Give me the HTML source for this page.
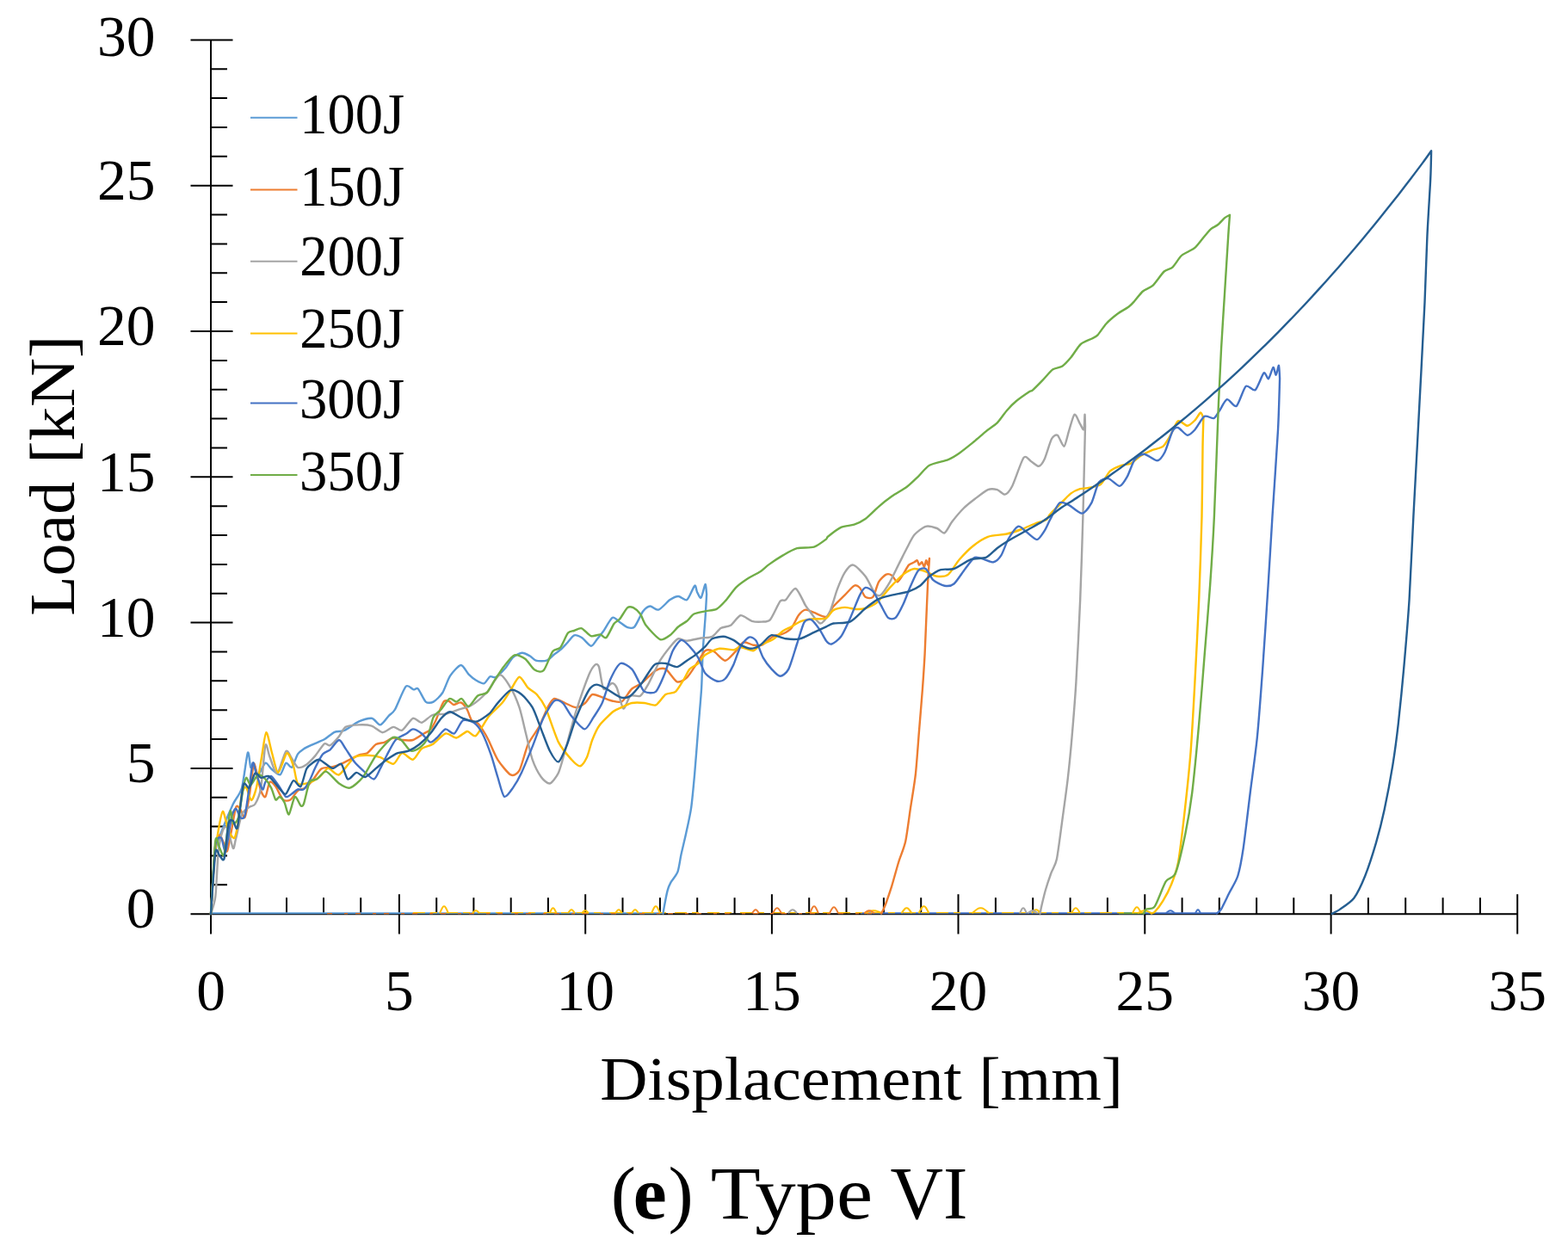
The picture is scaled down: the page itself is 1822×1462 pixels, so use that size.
<!DOCTYPE html>
<html><head><meta charset="utf-8"><title>Load vs Displacement - Type VI</title>
<style>html,body{margin:0;padding:0;background:#fff;}svg{display:block;}</style>
</head><body>
<svg width="1822" height="1462" viewBox="0 0 1822 1462">
<rect width="100%" height="100%" fill="#fff"/>
<path d="M245.0,46.4 L245.0,1085.5 M221.5,1062.2 L1763.2,1062.2 M245.0,1028.3 L264.0,1028.3 M245.0,994.5 L264.0,994.5 M245.0,960.6 L264.0,960.6 M245.0,926.8 L264.0,926.8 M221.5,892.9 L270.5,892.9 M245.0,859.0 L264.0,859.0 M245.0,825.2 L264.0,825.2 M245.0,791.3 L264.0,791.3 M245.0,757.5 L264.0,757.5 M221.5,723.6 L270.5,723.6 M245.0,689.7 L264.0,689.7 M245.0,655.9 L264.0,655.9 M245.0,622.0 L264.0,622.0 M245.0,588.2 L264.0,588.2 M221.5,554.3 L270.5,554.3 M245.0,520.4 L264.0,520.4 M245.0,486.6 L264.0,486.6 M245.0,452.7 L264.0,452.7 M245.0,418.9 L264.0,418.9 M221.5,385.0 L270.5,385.0 M245.0,351.1 L264.0,351.1 M245.0,317.3 L264.0,317.3 M245.0,283.4 L264.0,283.4 M245.0,249.6 L264.0,249.6 M221.5,215.7 L270.5,215.7 M245.0,181.8 L264.0,181.8 M245.0,148.0 L264.0,148.0 M245.0,114.1 L264.0,114.1 M245.0,80.3 L264.0,80.3 M221.5,46.4 L270.5,46.4 M290.1,1043.2 L290.1,1062.2 M333.0,1043.2 L333.0,1062.2 M376.0,1043.2 L376.0,1062.2 M419.2,1043.2 L419.2,1062.2 M463.9,1039.2 L463.9,1085.5 M507.2,1043.2 L507.2,1062.2 M550.4,1043.2 L550.4,1062.2 M593.7,1043.2 L593.7,1062.2 M636.9,1043.2 L636.9,1062.2 M680.2,1039.2 L680.2,1085.5 M723.5,1043.2 L723.5,1062.2 M766.9,1043.2 L766.9,1062.2 M810.2,1043.2 L810.2,1062.2 M853.6,1043.2 L853.6,1062.2 M896.9,1039.2 L896.9,1085.5 M940.2,1043.2 L940.2,1062.2 M983.5,1043.2 L983.5,1062.2 M1026.9,1043.2 L1026.9,1062.2 M1070.2,1043.2 L1070.2,1062.2 M1113.5,1039.2 L1113.5,1085.5 M1156.9,1043.2 L1156.9,1062.2 M1200.2,1043.2 L1200.2,1062.2 M1243.6,1043.2 L1243.6,1062.2 M1286.9,1043.2 L1286.9,1062.2 M1330.3,1039.2 L1330.3,1085.5 M1373.6,1043.2 L1373.6,1062.2 M1416.8,1043.2 L1416.8,1062.2 M1460.1,1043.2 L1460.1,1062.2 M1503.3,1043.2 L1503.3,1062.2 M1546.6,1039.2 L1546.6,1085.5 M1589.9,1043.2 L1589.9,1062.2 M1633.2,1043.2 L1633.2,1062.2 M1676.6,1043.2 L1676.6,1062.2 M1719.9,1043.2 L1719.9,1062.2 M1763.2,1039.2 L1763.2,1085.5" stroke="#000" stroke-width="2" fill="none"/>
<path d="M245,1061.3 L770.6,1061.3" stroke="#5B9BD5" stroke-width="2" fill="none"/>
<path d="M1000,1061.3 L1414.1,1061.3" stroke="#4472C4" stroke-width="2" fill="none"/>
<path d="M1300,1061.3 L1328.9,1061.3" stroke="#70AD47" stroke-width="2" fill="none"/>
<path d="M480,1060.6 L1338,1060.6" stroke="#FFC000" stroke-width="1.4" stroke-dasharray="14 6 8 10" fill="none"/>
<path d="M380,1061.6 L1024,1061.6" stroke="#ED7D31" stroke-width="1.2" stroke-dasharray="6 14 4 9" fill="none"/>
<path d="M1316.0,1061.3 C1316.2,1060.8 1318.6,1056.3 1319.0,1055.7 C1319.4,1055.1 1320.7,1054.3 1321.0,1054.3 C1321.3,1054.3 1322.6,1055.1 1323.0,1055.7 C1323.4,1056.3 1325.8,1060.8 1326.0,1061.3 M1245.0,1061.3 C1245.2,1060.9 1247.6,1057.0 1248.0,1056.5 C1248.4,1056.0 1249.7,1055.3 1250.0,1055.3 C1250.3,1055.3 1251.6,1056.0 1252.0,1056.5 C1252.4,1057.0 1254.8,1060.9 1255.0,1061.3 M1199.0,1061.3 C1199.2,1061.0 1201.6,1058.4 1202.0,1058.1 C1202.4,1057.8 1203.7,1057.3 1204.0,1057.3 C1204.3,1057.3 1205.6,1057.8 1206.0,1058.1 C1206.4,1058.4 1208.8,1061.0 1209.0,1061.3 M1129.5,1061.3 C1130.0,1060.9 1134.7,1057.0 1135.5,1056.5 C1136.3,1056.0 1138.8,1055.3 1139.5,1055.3 C1140.2,1055.3 1142.7,1056.0 1143.5,1056.5 C1144.3,1057.0 1149.0,1060.9 1149.5,1061.3 M1067.5,1061.3 C1067.8,1060.8 1070.6,1055.6 1071.1,1054.9 C1071.6,1054.2 1073.1,1053.3 1073.5,1053.3 C1073.9,1053.3 1075.4,1054.2 1075.9,1054.9 C1076.4,1055.6 1079.2,1060.8 1079.5,1061.3 M1047.5,1061.3 C1047.8,1060.9 1050.6,1057.0 1051.1,1056.5 C1051.6,1056.0 1053.1,1055.3 1053.5,1055.3 C1053.9,1055.3 1055.4,1056.0 1055.9,1056.5 C1056.4,1057.0 1059.2,1060.9 1059.5,1061.3 M1005.0,1061.3 C1005.5,1061.1 1010.2,1059.1 1011.0,1058.9 C1011.8,1058.6 1014.3,1058.3 1015.0,1058.3 C1015.7,1058.3 1018.2,1058.6 1019.0,1058.9 C1019.8,1059.1 1024.5,1061.1 1025.0,1061.3 M757.0,1061.3 C757.2,1060.8 759.6,1055.6 760.0,1054.9 C760.4,1054.2 761.7,1053.3 762.0,1053.3 C762.3,1053.3 763.6,1054.2 764.0,1054.9 C764.4,1055.6 766.8,1060.8 767.0,1061.3 M734.0,1061.3 C734.2,1061.0 736.1,1058.4 736.4,1058.1 C736.7,1057.8 737.7,1057.3 738.0,1057.3 C738.3,1057.3 739.3,1057.8 739.6,1058.1 C739.9,1058.4 741.8,1061.0 742.0,1061.3 M715.0,1061.3 C715.2,1061.0 717.1,1058.4 717.4,1058.1 C717.7,1057.8 718.7,1057.3 719.0,1057.3 C719.3,1057.3 720.3,1057.8 720.6,1058.1 C720.9,1058.4 722.8,1061.0 723.0,1061.3 M676.0,1061.3 C676.2,1061.1 678.1,1059.1 678.4,1058.9 C678.7,1058.6 679.7,1058.3 680.0,1058.3 C680.3,1058.3 681.3,1058.6 681.6,1058.9 C681.9,1059.1 683.8,1061.1 684.0,1061.3 M660.0,1061.3 C660.2,1061.0 662.1,1058.4 662.4,1058.1 C662.7,1057.8 663.7,1057.3 664.0,1057.3 C664.3,1057.3 665.3,1057.8 665.6,1058.1 C665.9,1058.4 667.8,1061.0 668.0,1061.3 M638.6,1061.3 C638.8,1060.9 640.7,1057.0 641.0,1056.5 C641.3,1056.0 642.3,1055.3 642.6,1055.3 C642.9,1055.3 643.9,1056.0 644.2,1056.5 C644.5,1057.0 646.4,1060.9 646.6,1061.3 M549.0,1061.3 C549.2,1061.1 551.1,1059.1 551.4,1058.9 C551.7,1058.6 552.7,1058.3 553.0,1058.3 C553.3,1058.3 554.3,1058.6 554.6,1058.9 C554.9,1059.1 556.8,1061.1 557.0,1061.3 M511.0,1061.3 C511.2,1060.8 513.6,1055.6 514.0,1054.9 C514.4,1054.2 515.7,1053.3 516.0,1053.3 C516.3,1053.3 517.6,1054.2 518.0,1054.9 C518.4,1055.6 520.8,1060.8 521.0,1061.3 M1322.0,1061.3 C1322.4,1061.1 1326.1,1059.1 1326.8,1058.9 C1327.5,1058.6 1329.5,1058.3 1330.0,1058.3 C1330.5,1058.3 1332.5,1058.6 1333.2,1058.9 C1333.9,1059.1 1337.6,1061.1 1338.0,1061.3" stroke="#FFC000" stroke-width="2" fill="none" stroke-linejoin="round"/>
<path d="M1185.0,1061.3 C1185.2,1060.9 1187.1,1057.0 1187.4,1056.5 C1187.7,1056.0 1188.7,1055.3 1189.0,1055.3 C1189.3,1055.3 1190.3,1056.0 1190.6,1056.5 C1190.9,1057.0 1192.8,1060.9 1193.0,1061.3 M916.0,1061.3 C916.2,1061.0 918.6,1058.4 919.0,1058.1 C919.4,1057.8 920.7,1057.3 921.0,1057.3 C921.3,1057.3 922.6,1057.8 923.0,1058.1 C923.4,1058.4 925.8,1061.0 926.0,1061.3 M1194.0,1061.3 C1194.3,1061.1 1197.1,1059.1 1197.6,1058.9 C1198.1,1058.6 1199.6,1058.3 1200.0,1058.3 C1200.4,1058.3 1201.9,1058.6 1202.4,1058.9 C1202.9,1059.1 1205.7,1061.1 1206.0,1061.3" stroke="#A5A5A5" stroke-width="2" fill="none" stroke-linejoin="round"/>
<path d="M964.0,1061.3 C964.2,1060.8 966.6,1056.3 967.0,1055.7 C967.4,1055.1 968.7,1054.3 969.0,1054.3 C969.3,1054.3 970.6,1055.1 971.0,1055.7 C971.4,1056.3 973.8,1060.8 974.0,1061.3 M941.0,1061.3 C941.2,1060.8 943.6,1055.6 944.0,1054.9 C944.4,1054.2 945.7,1053.3 946.0,1053.3 C946.3,1053.3 947.6,1054.2 948.0,1054.9 C948.4,1055.6 950.8,1060.8 951.0,1061.3 M898.0,1061.3 C898.2,1060.9 900.6,1057.0 901.0,1056.5 C901.4,1056.0 902.7,1055.3 903.0,1055.3 C903.3,1055.3 904.6,1056.0 905.0,1056.5 C905.4,1057.0 907.8,1060.9 908.0,1061.3 M874.0,1061.3 C874.2,1061.0 876.1,1058.4 876.4,1058.1 C876.7,1057.8 877.7,1057.3 878.0,1057.3 C878.3,1057.3 879.3,1057.8 879.6,1058.1 C879.9,1058.4 881.8,1061.0 882.0,1061.3 M1004.0,1061.3 C1004.3,1061.1 1007.1,1059.1 1007.6,1058.9 C1008.1,1058.6 1009.6,1058.3 1010.0,1058.3 C1010.4,1058.3 1011.9,1058.6 1012.4,1058.9 C1012.9,1059.1 1015.7,1061.1 1016.0,1061.3" stroke="#ED7D31" stroke-width="2" fill="none" stroke-linejoin="round"/>
<path d="M1389.0,1061.3 C1389.2,1061.0 1390.5,1058.4 1390.8,1058.1 C1391.0,1057.8 1391.8,1057.3 1392.0,1057.3 C1392.2,1057.3 1393.0,1057.8 1393.2,1058.1 C1393.5,1058.4 1394.8,1061.0 1395.0,1061.3 M1355.0,1061.3 C1355.2,1061.1 1357.6,1059.1 1358.0,1058.9 C1358.4,1058.6 1359.7,1058.3 1360.0,1058.3 C1360.3,1058.3 1361.6,1058.6 1362.0,1058.9 C1362.4,1059.1 1364.8,1061.1 1365.0,1061.3" stroke="#4472C4" stroke-width="2" fill="none" stroke-linejoin="round"/>
<path d="M245.0,1062.0 C245.6,1053.0 248.4,1002.1 250.0,990.0 C251.6,977.9 255.4,971.9 258.0,965.0 C260.6,958.1 267.9,940.7 270.8,934.5 C273.7,928.3 278.9,923.2 281.0,915.7 C283.1,908.2 286.6,877.7 287.9,874.7 C289.2,871.7 290.4,890.3 291.3,891.8 C292.2,893.3 293.6,885.7 294.7,886.7 C295.8,887.7 298.3,900.0 300.0,900.0 C301.7,900.0 306.5,887.5 308.4,886.7 C310.3,885.9 313.1,891.8 315.2,893.5 C317.3,895.2 323.4,901.1 325.5,900.3 C327.6,899.4 330.6,887.8 332.3,886.7 C334.0,885.6 337.4,893.1 339.1,891.8 C340.8,890.5 344.3,879.1 346.0,876.4 C347.7,873.7 350.7,871.8 352.8,870.4 C354.9,869.0 360.0,866.7 363.0,865.3 C366.0,863.9 373.6,861.1 376.8,859.3 C380.0,857.5 385.8,852.1 388.7,850.8 C391.6,849.5 396.5,850.5 400.0,849.0 C403.5,847.5 412.7,840.4 416.7,838.6 C420.7,836.8 428.8,834.3 432.0,834.8 C435.2,835.3 439.5,842.8 442.0,842.4 C444.5,842.0 449.9,833.8 452.0,831.6 C454.1,829.4 456.6,828.7 459.0,824.5 C461.4,820.3 468.9,800.7 471.6,797.8 C474.3,794.9 478.7,801.1 480.5,801.4 C482.3,801.7 484.0,798.7 485.8,800.5 C487.6,802.3 492.5,813.7 494.7,815.6 C496.9,817.5 501.2,816.9 503.6,815.6 C506.1,814.3 511.9,808.8 514.3,805.0 C516.7,801.2 520.4,789.4 523.1,785.4 C525.8,781.4 532.9,773.2 535.6,773.0 C538.3,772.8 542.3,781.4 544.5,783.6 C546.7,785.8 551.2,789.4 553.4,790.7 C555.6,792.0 560.3,794.8 562.3,794.3 C564.3,793.8 567.7,787.2 569.4,786.3 C571.1,785.4 573.8,788.2 576.0,787.0 C578.2,785.8 584.7,779.4 587.2,776.5 C589.7,773.6 593.6,766.2 596.0,764.0 C598.4,761.8 604.2,758.9 606.7,758.7 C609.2,758.5 613.6,761.2 615.6,762.3 C617.6,763.4 620.2,766.9 622.7,767.6 C625.2,768.3 632.5,768.5 635.2,767.6 C637.9,766.7 642.0,762.0 644.0,760.5 C646.0,759.0 649.4,756.8 651.2,755.2 C653.0,753.6 656.3,750.1 658.3,748.0 C660.3,745.9 665.0,739.2 667.2,738.3 C669.4,737.4 673.5,739.5 676.0,741.0 C678.5,742.5 684.6,750.5 686.8,750.7 C689.0,750.9 692.1,744.8 693.9,742.7 C695.7,740.6 698.8,736.9 701.0,733.8 C703.2,730.7 709.3,719.1 711.7,717.8 C714.1,716.4 717.8,721.6 720.0,723.0 C722.2,724.4 727.0,728.4 729.2,729.1 C731.4,729.8 735.1,730.6 737.4,728.3 C739.7,725.9 745.0,713.3 747.3,710.3 C749.6,707.3 753.2,704.7 755.5,704.5 C757.8,704.3 762.4,709.5 765.3,708.6 C768.2,707.7 775.6,699.1 778.5,697.1 C781.4,695.1 785.8,693.0 788.3,693.0 C790.8,693.0 795.8,698.6 798.2,697.1 C800.6,695.6 805.7,681.8 807.2,680.7 C808.7,679.6 809.1,686.2 810.0,688.0 C810.9,689.8 813.4,695.8 814.6,694.7 C815.8,693.6 818.7,679.6 819.5,679.1 C820.3,678.6 820.9,689.2 821.1,690.6 C820.9,694.1 820.1,709.8 819.5,718.5 C818.9,727.2 817.0,749.8 816.5,760.0 C816.0,770.2 815.8,788.8 815.1,800.0 C814.4,811.2 812.1,837.0 811.1,849.4 C810.1,861.8 808.2,887.7 807.2,898.8 C806.2,909.9 804.4,929.6 803.2,938.3 C802.0,946.9 798.8,961.1 797.3,968.0 C795.8,974.9 792.6,987.9 791.4,993.6 C790.2,999.3 788.9,1009.4 787.4,1013.4 C785.9,1017.4 781.0,1022.6 779.5,1025.3 C778.0,1028.0 776.6,1031.4 775.6,1035.1 C774.6,1038.8 772.2,1051.6 771.6,1054.9 C771.0,1058.2 770.7,1060.7 770.6,1061.5" stroke="#5B9BD5" stroke-width="2.4" fill="none" stroke-linejoin="round" stroke-linecap="round"/>
<path d="M245.0,1062.0 C245.7,1052.0 249.0,993.9 250.3,982.4 C251.6,970.9 254.2,970.7 255.4,970.4 C256.6,970.1 258.9,977.6 260.0,980.0 C261.1,982.4 262.9,991.1 264.0,989.2 C265.1,987.3 267.7,971.4 269.0,965.0 C270.3,958.6 272.9,941.1 274.2,938.0 C275.4,934.9 277.7,938.5 279.0,940.0 C280.3,941.5 283.1,951.8 284.4,950.0 C285.7,948.2 288.3,933.7 289.6,926.0 C290.9,918.3 293.6,891.9 294.7,888.4 C295.8,884.9 296.9,894.2 298.0,898.0 C299.1,901.8 301.9,915.5 303.2,919.0 C304.5,922.5 307.1,927.3 308.4,926.0 C309.7,924.7 312.0,910.4 313.5,908.9 C315.0,907.4 318.4,911.4 320.3,914.0 C322.2,916.6 326.8,927.5 328.9,929.4 C331.0,931.3 335.3,930.7 337.4,929.4 C339.5,928.1 343.9,920.7 346.0,919.0 C348.1,917.3 352.4,917.2 354.5,915.7 C356.6,914.2 360.6,910.0 363.0,907.2 C365.4,904.4 370.7,895.4 373.3,893.5 C375.9,891.6 380.7,892.5 383.6,891.8 C386.5,891.1 392.4,889.6 396.5,887.8 C400.6,886.0 412.9,879.3 416.7,877.7 C420.5,876.1 424.3,876.8 426.8,875.2 C429.3,873.6 434.4,866.7 436.9,865.1 C439.4,863.5 444.5,863.6 447.0,862.6 C449.5,861.6 454.6,857.8 457.1,857.5 C459.6,857.2 464.4,859.7 467.2,860.0 C470.0,860.3 476.6,860.9 479.8,860.0 C483.0,859.1 490.0,854.0 492.5,852.5 C495.0,851.0 498.3,849.8 500.0,848.0 C501.7,846.2 504.5,841.1 506.0,838.0 C507.5,834.9 510.8,825.9 512.0,823.0 C513.2,820.1 514.8,816.0 516.0,815.0 C517.2,814.0 520.6,814.5 522.0,815.0 C523.4,815.5 525.3,818.8 527.0,819.0 C528.7,819.2 533.6,815.8 535.6,816.5 C537.6,817.2 541.2,821.9 542.7,824.5 C544.2,827.1 546.5,835.0 548.0,837.0 C549.5,839.0 553.4,839.2 555.0,840.5 C556.6,841.8 558.9,845.2 560.5,847.6 C562.1,850.0 565.4,855.6 567.6,860.0 C569.8,864.4 575.1,877.8 578.3,882.8 C581.5,887.8 590.2,898.8 593.4,900.4 C596.5,902.0 601.0,899.8 603.5,895.4 C606.0,891.0 610.8,871.3 613.6,865.0 C616.5,858.7 623.4,850.2 626.3,844.9 C629.1,839.5 634.2,826.3 636.4,822.2 C638.6,818.1 641.5,812.6 644.0,812.0 C646.5,811.4 653.5,815.8 656.6,817.1 C659.8,818.4 666.3,822.2 669.2,822.2 C672.1,822.2 677.6,818.9 680.0,817.0 C682.4,815.1 685.7,807.9 688.2,807.1 C690.7,806.3 696.8,809.5 699.7,810.4 C702.6,811.3 708.3,813.9 711.2,814.5 C714.1,815.1 719.8,817.0 722.7,815.3 C725.6,813.5 731.3,803.2 734.2,800.5 C737.1,797.8 742.1,796.7 745.6,794.0 C749.1,791.3 758.5,781.2 762.0,779.2 C765.5,777.2 770.4,776.0 773.5,777.6 C776.6,779.2 783.6,791.1 786.7,792.3 C789.8,793.5 795.3,790.1 798.2,787.4 C801.1,784.7 807.0,774.9 809.7,771.0 C812.4,767.1 817.0,758.0 819.5,756.2 C822.0,754.5 826.5,755.6 829.4,757.0 C832.3,758.4 839.4,767.6 842.5,767.7 C845.6,767.8 851.3,760.6 854.0,757.9 C856.7,755.2 861.1,747.4 863.8,746.4 C866.5,745.4 872.6,749.3 875.3,749.7 C878.0,750.1 882.3,750.9 885.2,749.7 C888.1,748.5 895.2,741.4 898.3,739.8 C901.4,738.1 907.1,737.7 909.8,736.5 C912.5,735.3 917.4,732.7 919.6,730.0 C921.9,727.3 925.8,717.9 927.8,715.2 C929.8,712.5 933.7,709.0 936.0,708.6 C938.3,708.2 942.9,710.9 945.9,711.9 C948.9,712.9 957.2,717.7 960.0,716.8 C962.8,715.9 965.7,707.9 968.4,704.8 C971.1,701.6 978.6,694.6 981.6,691.6 C984.6,688.6 990.3,681.8 992.5,680.7 C994.7,679.6 997.4,681.4 999.0,683.0 C1000.6,684.6 1003.7,692.4 1005.6,693.8 C1007.5,695.1 1012.5,696.0 1014.4,693.8 C1016.3,691.6 1019.1,679.6 1021.0,676.3 C1022.9,673.0 1027.8,668.5 1029.7,667.6 C1031.6,666.7 1034.7,667.6 1036.3,668.7 C1037.9,669.8 1041.2,676.4 1042.8,676.3 C1044.4,676.2 1047.8,670.1 1049.4,667.6 C1051.1,665.1 1054.4,658.4 1056.0,656.6 C1057.6,654.8 1061.3,654.0 1062.5,653.3 C1063.7,652.6 1065.1,650.8 1065.8,651.2 C1066.5,651.6 1067.3,656.3 1068.0,656.6 C1068.7,656.9 1070.5,653.0 1071.3,653.3 C1072.0,653.6 1073.4,659.1 1074.0,658.8 C1074.6,658.5 1075.6,651.5 1076.1,651.2 C1076.6,650.9 1077.8,656.9 1078.3,656.6 C1078.8,656.3 1079.8,650.0 1080.0,649.0 C1079.8,652.9 1078.7,666.1 1078.0,680.0 C1077.3,693.9 1075.3,745.0 1074.6,760.0 C1073.8,775.0 1072.8,788.8 1072.0,800.0 C1071.2,811.2 1069.0,837.0 1068.0,849.4 C1067.0,861.8 1065.2,887.7 1064.0,898.8 C1062.8,909.9 1059.6,928.4 1058.1,938.3 C1056.6,948.2 1053.9,969.9 1052.2,977.8 C1050.5,985.7 1046.3,995.1 1044.3,1001.5 C1042.3,1007.9 1038.1,1023.5 1036.4,1029.2 C1034.7,1034.9 1031.7,1043.5 1030.5,1047.0 C1029.3,1050.5 1027.3,1055.1 1026.5,1056.9 C1025.7,1058.7 1024.3,1060.9 1024.0,1061.5" stroke="#ED7D31" stroke-width="2.4" fill="none" stroke-linejoin="round" stroke-linecap="round"/>
<path d="M245.0,1062.0 C245.7,1059.5 249.2,1050.9 250.3,1042.0 C251.4,1033.1 252.6,1000.6 253.7,991.0 C254.8,981.4 257.5,968.9 258.8,965.3 C260.1,961.7 262.5,959.4 264.0,962.0 C265.5,964.6 269.6,984.2 270.8,985.8 C272.1,987.4 272.7,979.9 274.0,975.0 C275.3,970.1 279.1,951.1 281.0,946.5 C282.9,941.9 287.7,939.5 289.6,938.0 C291.5,936.5 294.7,937.3 296.4,934.5 C298.1,931.7 301.7,924.2 303.2,915.7 C304.7,907.2 307.1,870.7 308.4,866.2 C309.7,861.7 311.8,875.8 313.5,879.8 C315.2,883.8 319.6,899.5 322.0,898.6 C324.4,897.8 330.2,875.1 332.3,873.0 C334.4,870.9 337.4,879.1 339.1,881.5 C340.8,883.9 343.9,890.9 346.0,891.8 C348.1,892.7 353.6,890.1 356.2,888.4 C358.8,886.7 363.9,881.1 366.5,878.1 C369.1,875.1 374.7,865.9 376.8,864.4 C378.9,862.9 381.5,867.3 383.6,866.2 C385.7,865.1 391.6,858.6 393.8,855.9 C396.1,853.2 398.7,846.6 401.6,844.9 C404.5,843.2 412.9,842.6 416.7,842.4 C420.5,842.2 428.4,842.5 431.9,843.6 C435.4,844.7 441.4,851.0 444.5,851.2 C447.6,851.4 454.3,845.2 457.1,844.9 C459.9,844.6 464.4,850.0 467.2,848.7 C470.0,847.4 476.9,835.9 479.8,834.8 C482.7,833.7 487.1,840.3 490.0,839.8 C492.9,839.3 499.1,832.3 502.6,831.0 C506.1,829.7 513.9,830.5 517.7,829.7 C521.5,828.9 529.1,826.0 532.9,824.7 C536.7,823.4 543.9,822.1 548.0,819.6 C552.1,817.1 561.6,808.9 565.7,804.5 C569.8,800.1 577.3,784.9 580.8,784.3 C584.3,783.7 590.6,794.7 593.4,799.4 C596.2,804.1 601.3,815.6 603.5,822.2 C605.7,828.8 609.2,844.9 611.1,852.5 C613.0,860.1 616.5,876.5 618.7,882.8 C620.9,889.1 626.3,899.5 628.8,903.0 C631.3,906.5 636.4,911.1 638.9,910.5 C641.4,909.9 646.8,902.6 649.0,897.9 C651.2,893.2 654.1,881.5 656.6,872.7 C659.1,863.9 665.7,838.2 669.2,827.2 C672.7,816.2 681.5,791.1 684.3,784.3 C687.1,777.5 690.0,773.8 691.5,772.6 C693.0,771.4 694.8,771.5 696.0,775.0 C697.2,778.5 699.4,798.1 701.3,800.5 C703.2,802.9 709.2,794.1 711.2,794.0 C713.2,793.9 715.4,796.3 717.0,800.0 C718.6,803.7 722.4,822.4 724.3,823.5 C726.2,824.6 730.0,810.6 732.5,808.7 C735.0,806.9 741.3,810.5 744.0,808.7 C746.7,806.9 751.0,799.1 753.9,794.0 C756.8,788.9 763.5,773.5 767.0,767.7 C770.5,762.0 779.1,751.2 781.8,748.0 C784.5,744.8 786.2,742.7 788.3,742.3 C790.3,741.9 794.9,744.8 798.2,744.7 C801.5,744.6 810.9,742.1 814.6,741.5 C818.3,740.9 824.8,741.2 827.7,739.8 C830.6,738.4 834.9,731.6 837.6,730.0 C840.3,728.4 846.1,728.6 849.0,726.7 C851.9,724.9 857.4,715.8 860.5,715.2 C863.6,714.6 870.6,720.9 873.7,721.8 C876.8,722.7 882.5,722.8 885.2,722.6 C887.9,722.4 892.3,723.1 895.0,720.1 C897.7,717.1 904.2,701.7 906.5,698.8 C908.8,695.9 910.8,699.0 913.0,697.1 C915.2,695.2 921.6,683.2 924.5,684.0 C927.4,684.8 934.1,700.6 936.0,703.7 C937.9,706.8 937.9,706.5 940.0,709.1 C942.1,711.7 950.1,724.2 953.1,724.5 C956.1,724.8 961.6,716.2 964.1,711.3 C966.6,706.4 970.6,690.8 972.8,685.1 C975.0,679.4 979.3,669.0 981.6,665.4 C983.9,661.8 988.4,656.1 991.4,656.6 C994.4,657.1 1002.5,665.7 1005.6,669.8 C1008.8,673.9 1014.4,686.8 1016.6,689.5 C1018.8,692.2 1021.0,693.2 1023.2,691.6 C1025.4,690.0 1031.4,680.9 1034.1,676.3 C1036.8,671.6 1042.5,659.3 1045.0,654.4 C1047.5,649.5 1051.6,641.1 1053.8,637.0 C1056.0,632.9 1059.8,624.8 1062.5,621.6 C1065.2,618.5 1072.4,612.8 1075.7,611.8 C1079.0,610.8 1086.1,613.0 1088.8,614.0 C1091.5,615.0 1095.3,620.4 1097.5,619.4 C1099.7,618.4 1103.6,609.8 1106.3,606.3 C1109.0,602.8 1116.1,594.3 1119.4,591.0 C1122.7,587.7 1129.0,582.7 1132.6,580.0 C1136.2,577.3 1144.6,570.5 1147.9,569.1 C1151.2,567.7 1156.3,568.4 1158.8,569.1 C1161.3,569.8 1165.4,575.1 1167.6,574.6 C1169.8,574.1 1173.6,570.0 1176.3,564.7 C1179.0,559.4 1186.8,535.5 1189.5,531.9 C1192.2,528.3 1196.0,535.1 1198.2,536.3 C1200.4,537.5 1205.1,542.1 1207.0,541.8 C1208.9,541.5 1211.6,538.1 1213.5,534.1 C1215.4,530.1 1220.1,513.5 1222.0,510.0 C1223.9,506.5 1227.0,504.7 1228.8,505.8 C1230.6,506.9 1234.8,519.4 1236.4,518.9 C1238.0,518.4 1240.4,506.0 1241.9,501.4 C1243.4,496.8 1246.9,482.8 1248.5,481.7 C1250.1,480.6 1253.6,490.4 1255.0,492.6 C1256.4,494.8 1258.7,500.6 1259.4,499.2 C1260.1,497.8 1260.3,482.2 1260.5,481.7 C1260.7,481.2 1260.9,493.3 1261.0,495.0 C1260.7,508.1 1259.1,574.8 1258.4,600.0 C1257.7,625.2 1256.2,672.3 1255.2,696.4 C1254.2,720.5 1251.6,772.8 1250.4,792.9 C1249.2,813.0 1246.7,843.1 1245.5,857.2 C1244.3,871.3 1242.1,893.4 1240.7,905.4 C1239.3,917.4 1235.9,942.0 1234.3,953.6 C1232.7,965.2 1229.5,991.0 1227.9,998.6 C1226.3,1006.2 1223.0,1010.3 1221.4,1014.7 C1219.8,1019.1 1216.4,1029.2 1215.0,1034.0 C1213.6,1038.8 1211.0,1049.8 1210.2,1053.2 C1209.4,1056.6 1208.8,1060.5 1208.6,1061.5" stroke="#A5A5A5" stroke-width="2.4" fill="none" stroke-linejoin="round" stroke-linecap="round"/>
<path d="M245.0,1062.0 C245.5,1054.2 247.9,1012.1 249.0,1000.0 C250.1,987.9 252.5,972.4 253.7,965.3 C254.9,958.2 257.5,943.7 258.8,943.0 C260.1,942.3 262.9,956.6 264.0,960.0 C265.1,963.4 266.9,968.3 268.0,970.0 C269.1,971.7 271.5,975.0 272.5,973.8 C273.5,972.5 274.9,966.4 276.0,960.0 C277.1,953.6 279.8,928.2 281.0,922.6 C282.2,917.0 284.6,914.1 286.0,915.0 C287.4,915.9 290.5,930.0 292.0,930.0 C293.5,930.0 296.5,921.2 298.0,915.0 C299.5,908.8 302.6,888.0 304.0,880.0 C305.4,872.0 307.9,851.8 309.4,851.2 C310.9,850.6 314.3,869.2 316.0,875.0 C317.7,880.8 321.1,897.9 323.3,897.9 C325.5,897.9 331.2,876.2 333.4,875.2 C335.6,874.2 339.4,885.9 341.0,890.3 C342.6,894.7 343.9,908.0 346.0,910.5 C348.1,913.0 354.8,910.9 358.0,910.0 C361.2,909.1 368.4,905.1 371.3,903.0 C374.2,900.9 378.6,893.2 381.4,892.9 C384.2,892.6 390.2,902.0 394.0,900.4 C397.8,898.8 407.6,883.0 411.7,880.2 C415.8,877.4 423.0,877.7 426.8,877.7 C430.6,877.7 438.2,878.9 442.0,880.2 C445.8,881.5 454.0,888.4 457.1,887.8 C460.2,887.2 464.4,875.8 467.2,875.2 C470.0,874.6 476.9,883.4 479.8,882.8 C482.7,882.2 487.1,872.3 490.0,870.1 C492.9,867.9 499.1,867.2 502.6,865.0 C506.1,862.8 514.2,853.4 517.7,852.5 C521.2,851.6 527.1,857.8 530.3,857.5 C533.5,857.2 540.2,850.3 543.0,850.0 C545.8,849.7 549.9,857.2 553.0,855.0 C556.1,852.8 564.4,837.0 568.2,832.3 C572.0,827.6 580.2,820.9 583.4,817.1 C586.5,813.3 590.9,805.8 593.4,802.0 C595.9,798.2 601.0,787.1 603.5,786.8 C606.0,786.5 611.1,796.9 613.6,799.4 C616.1,801.9 621.2,804.1 623.7,807.0 C626.2,809.9 630.6,815.2 633.8,822.2 C637.0,829.2 645.2,855.0 649.0,862.6 C652.8,870.2 661.0,879.3 664.1,882.8 C667.2,886.3 672.0,890.6 674.2,890.3 C676.4,889.9 680.2,883.8 682.0,880.0 C683.8,876.2 686.4,864.6 688.2,860.0 C690.0,855.4 693.3,847.4 696.4,843.2 C699.5,839.1 709.5,829.5 712.8,826.8 C716.1,824.1 720.0,823.1 722.7,821.9 C725.4,820.7 730.9,817.6 734.2,817.0 C737.5,816.4 745.4,816.7 748.9,817.0 C752.4,817.3 758.9,820.6 762.0,819.4 C765.1,818.2 770.6,809.1 773.5,807.1 C776.4,805.1 782.3,806.1 785.0,803.8 C787.7,801.5 792.9,792.3 794.9,789.0 C796.9,785.7 799.4,779.9 801.4,777.6 C803.4,775.4 809.0,773.1 811.3,771.0 C813.6,768.9 816.4,763.2 819.5,761.1 C822.6,759.0 831.8,754.5 835.9,753.8 C840.0,753.1 849.3,755.6 852.3,755.4 C855.3,755.2 857.1,751.9 860.0,752.0 C862.9,752.1 872.4,756.5 875.3,756.2 C878.2,755.9 880.6,751.3 883.5,749.7 C886.4,748.1 895.0,745.2 898.3,743.1 C901.6,741.0 907.1,735.1 909.8,733.2 C912.5,731.4 916.9,729.7 919.6,728.3 C922.3,726.9 927.8,722.9 931.1,721.8 C934.4,720.7 942.3,719.7 945.9,719.3 C949.5,718.9 957.2,719.8 960.0,718.5 C962.8,717.2 965.7,710.7 968.4,709.1 C971.1,707.5 978.3,706.0 981.6,705.9 C984.9,705.8 991.7,707.9 994.7,708.0 C997.7,708.1 1002.6,708.0 1005.6,707.0 C1008.6,706.0 1015.2,703.4 1018.8,700.4 C1022.4,697.4 1030.3,687.0 1034.1,682.9 C1037.9,678.8 1045.9,670.3 1049.4,667.6 C1053.0,664.9 1059.2,661.4 1062.5,661.0 C1065.8,660.6 1072.4,663.2 1075.7,664.3 C1079.0,665.4 1085.5,669.4 1088.8,669.8 C1092.1,670.2 1098.6,670.1 1101.9,667.6 C1105.2,665.1 1111.4,654.1 1115.0,650.0 C1118.6,645.9 1126.3,638.0 1130.4,634.7 C1134.5,631.4 1143.0,625.6 1147.9,623.8 C1152.8,622.0 1164.9,621.6 1169.8,620.5 C1174.7,619.4 1183.2,616.5 1187.3,615.0 C1191.4,613.5 1199.0,609.9 1202.6,608.5 C1206.1,607.1 1213.5,605.5 1215.7,604.1 C1217.9,602.8 1218.1,599.9 1220.0,597.7 C1221.9,595.5 1228.0,589.8 1231.0,586.8 C1234.0,583.8 1241.1,575.9 1244.1,573.6 C1247.1,571.3 1252.5,569.0 1255.0,568.2 C1257.5,567.4 1260.8,567.8 1263.8,567.1 C1266.8,566.4 1275.8,565.2 1279.1,562.7 C1282.4,560.2 1287.0,550.1 1290.0,547.4 C1293.0,544.7 1300.2,541.9 1303.2,540.8 C1306.2,539.7 1311.4,540.0 1314.1,538.6 C1316.8,537.2 1322.1,531.8 1325.1,529.9 C1328.1,528.0 1334.9,524.7 1338.2,523.3 C1341.5,521.9 1348.6,521.1 1351.3,518.9 C1354.0,516.7 1357.9,509.5 1360.1,505.8 C1362.3,502.1 1366.4,490.8 1368.9,489.4 C1371.4,488.0 1377.3,494.9 1379.8,494.8 C1382.3,494.7 1386.7,490.2 1388.6,488.3 C1390.5,486.4 1393.9,479.8 1395.1,479.5 C1396.3,479.2 1398.0,485.3 1398.4,486.1 C1398.3,490.3 1397.7,505.8 1397.5,520.0 C1397.3,534.2 1397.0,577.9 1396.5,600.0 C1396.0,622.1 1394.2,672.4 1393.2,696.5 C1392.2,720.6 1389.6,770.8 1388.4,792.9 C1387.2,815.0 1385.0,855.2 1383.6,873.3 C1382.2,891.4 1379.0,921.5 1377.2,937.6 C1375.4,953.7 1371.1,990.6 1369.1,1001.9 C1367.1,1013.2 1363.3,1022.1 1361.1,1027.7 C1358.9,1033.3 1353.8,1042.9 1351.4,1046.9 C1349.0,1050.9 1343.5,1058.0 1341.8,1059.8 C1340.1,1061.6 1338.5,1061.3 1338.0,1061.5" stroke="#FFC000" stroke-width="2.4" fill="none" stroke-linejoin="round" stroke-linecap="round"/>
<path d="M245.0,1062.0 C245.7,1052.0 248.8,993.4 250.3,982.4 C251.8,971.4 255.6,972.9 257.1,973.8 C258.6,974.6 260.7,992.2 262.2,989.2 C263.7,986.2 267.5,956.2 269.0,950.0 C270.5,943.8 272.9,939.7 274.2,939.7 C275.4,939.7 277.7,948.9 279.0,950.0 C280.3,951.1 283.1,952.5 284.4,948.2 C285.7,943.9 288.4,923.4 289.6,915.7 C290.8,908.0 292.7,888.6 293.8,886.7 C294.9,884.8 296.7,896.5 298.1,900.3 C299.5,904.1 303.7,916.3 305.0,917.4 C306.3,918.5 307.1,910.8 308.4,908.9 C309.7,907.0 313.1,901.1 315.2,902.0 C317.3,902.9 323.4,912.7 325.5,915.7 C327.6,918.7 330.6,925.1 332.3,926.0 C334.0,926.9 337.4,923.7 339.1,922.6 C340.8,921.5 344.3,918.0 346.0,917.4 C347.7,916.8 351.1,918.7 352.8,917.4 C354.5,916.1 358.0,910.4 359.7,907.2 C361.4,904.0 364.6,895.6 366.5,891.8 C368.4,887.9 372.9,879.0 375.0,876.4 C377.1,873.8 381.2,873.3 383.6,871.3 C386.0,869.2 391.8,860.1 394.0,860.0 C396.2,859.9 399.4,866.9 401.6,870.1 C403.8,873.3 409.2,882.1 411.7,885.3 C414.2,888.5 419.0,892.9 421.8,895.4 C424.6,897.9 431.9,905.8 434.4,905.5 C436.9,905.2 440.1,896.4 442.0,892.9 C443.9,889.4 447.3,881.8 449.5,877.7 C451.7,873.6 456.8,863.1 459.6,860.0 C462.5,856.9 469.8,854.1 472.3,852.5 C474.8,850.9 477.6,847.4 479.8,847.4 C482.0,847.4 487.5,850.6 490.0,852.5 C492.5,854.4 497.8,862.0 500.0,862.6 C502.2,863.2 505.4,859.4 507.6,857.5 C509.8,855.6 515.2,848.0 517.7,847.4 C520.2,846.8 525.3,853.8 527.8,852.5 C530.3,851.2 535.1,838.9 537.9,837.3 C540.7,835.7 547.7,837.9 550.5,839.8 C553.3,841.7 558.1,847.8 560.6,852.5 C563.1,857.2 568.5,871.4 570.7,877.7 C572.9,884.0 576.4,897.0 578.3,903.0 C580.2,909.0 583.7,924.1 585.9,925.7 C588.1,927.3 593.5,919.1 596.0,915.6 C598.5,912.1 603.2,903.9 606.0,897.9 C608.8,891.9 615.5,875.5 618.7,867.6 C621.9,859.7 628.1,841.4 631.3,834.8 C634.5,828.2 641.2,816.8 644.0,814.6 C646.8,812.4 651.5,814.9 654.0,817.1 C656.5,819.3 660.9,828.5 664.1,832.3 C667.3,836.1 676.1,847.3 679.3,847.4 C682.5,847.5 687.2,837.2 689.8,833.4 C692.3,829.6 697.2,822.5 699.7,817.0 C702.2,811.5 706.8,794.8 709.5,789.0 C712.2,783.2 717.9,772.4 721.0,771.0 C724.1,769.6 731.5,774.9 734.2,777.6 C736.9,780.3 740.6,789.0 742.4,792.3 C744.2,795.6 746.4,802.4 748.9,803.8 C751.4,805.2 759.1,806.3 762.0,803.8 C764.9,801.3 769.4,790.0 771.9,784.1 C774.4,778.2 779.3,761.2 781.8,756.2 C784.3,751.2 789.1,744.5 791.6,743.9 C794.1,743.3 798.9,748.7 801.4,751.3 C803.9,753.9 809.0,760.5 811.3,764.4 C813.6,768.3 816.8,779.1 819.5,782.5 C822.2,785.9 829.7,790.7 832.6,791.5 C835.5,792.3 840.0,791.4 842.5,789.0 C845.0,786.6 850.0,777.3 852.3,772.6 C854.5,767.9 858.2,755.3 860.5,751.3 C862.8,747.3 868.1,741.4 870.4,740.6 C872.7,739.8 876.6,741.7 878.6,744.7 C880.6,747.7 884.5,760.3 886.8,764.4 C889.0,768.5 894.1,774.9 896.6,777.6 C899.1,780.3 904.0,785.8 906.5,785.8 C909.0,785.8 913.8,782.3 916.3,777.6 C918.8,772.9 923.9,754.8 926.2,748.0 C928.5,741.2 932.4,726.9 934.4,723.4 C936.4,719.9 940.4,719.1 942.6,720.1 C944.9,721.1 950.2,728.5 952.4,731.6 C954.6,734.7 958.3,742.6 960.0,744.7 C961.7,746.8 964.1,749.1 966.3,748.5 C968.4,747.9 974.5,743.6 977.2,739.8 C979.9,736.0 985.4,723.9 988.1,717.9 C990.8,711.9 996.9,696.0 999.1,691.6 C1001.3,687.2 1003.7,683.4 1005.6,682.9 C1007.5,682.4 1012.2,684.8 1014.4,687.3 C1016.6,689.8 1021.0,698.8 1023.2,702.6 C1025.4,706.4 1029.7,716.0 1031.9,717.9 C1034.1,719.8 1038.5,719.8 1040.7,717.9 C1042.9,716.0 1047.2,707.2 1049.4,702.6 C1051.6,698.0 1056.0,685.6 1058.2,680.7 C1060.4,675.8 1064.7,665.7 1066.9,663.2 C1069.1,660.7 1073.5,659.6 1075.7,661.0 C1077.9,662.4 1081.7,671.6 1084.4,674.1 C1087.1,676.6 1094.5,680.2 1097.5,680.7 C1100.5,681.2 1105.5,681.0 1108.5,678.5 C1111.5,676.0 1118.6,664.8 1121.6,661.0 C1124.6,657.2 1129.9,649.3 1132.6,647.9 C1135.3,646.5 1140.8,649.4 1143.5,650.1 C1146.2,650.8 1151.9,653.8 1154.4,653.3 C1156.9,652.8 1161.0,649.1 1163.2,645.7 C1165.4,642.3 1169.4,630.2 1171.9,626.0 C1174.4,621.8 1180.4,612.9 1182.9,611.8 C1185.4,610.7 1188.9,615.3 1191.6,617.2 C1194.3,619.1 1202.1,627.1 1204.8,627.1 C1207.5,627.1 1211.6,620.1 1213.5,617.2 C1215.4,614.4 1217.8,608.4 1220.0,604.3 C1222.2,600.2 1228.3,586.8 1231.0,584.6 C1233.7,582.4 1238.6,585.3 1241.9,586.8 C1245.2,588.3 1253.9,596.9 1257.2,596.6 C1260.5,596.3 1265.7,589.1 1268.2,584.6 C1270.7,580.1 1274.4,564.1 1276.9,560.5 C1279.4,556.9 1284.9,555.6 1287.9,556.1 C1290.9,556.6 1298.3,565.2 1301.0,564.9 C1303.7,564.6 1307.6,557.7 1309.8,553.9 C1312.0,550.1 1316.0,537.5 1318.5,534.2 C1321.0,530.9 1326.2,527.6 1329.5,527.7 C1332.8,527.8 1341.8,535.6 1344.8,535.3 C1347.8,535.0 1351.3,529.7 1353.5,525.5 C1355.7,521.3 1360.4,505.0 1362.3,501.4 C1364.2,497.8 1366.7,496.4 1368.9,497.0 C1371.1,497.6 1377.3,505.5 1379.8,505.8 C1382.3,506.1 1386.1,501.9 1388.6,499.2 C1391.1,496.5 1396.8,485.5 1399.5,483.9 C1402.2,482.3 1408.3,486.9 1410.5,486.1 C1412.7,485.3 1415.1,480.0 1417.0,477.3 C1418.9,474.6 1423.3,464.9 1425.8,464.2 C1428.3,463.5 1434.0,473.8 1436.7,471.9 C1439.4,470.0 1445.0,451.2 1447.7,448.9 C1450.4,446.6 1456.0,455.1 1458.6,453.2 C1461.2,451.3 1466.6,435.1 1468.5,433.5 C1470.4,431.9 1472.6,440.9 1474.0,440.1 C1475.4,439.3 1478.3,427.6 1479.4,427.0 C1480.5,426.4 1481.9,436.0 1482.7,435.7 C1483.5,435.4 1485.5,424.2 1486.0,424.8 C1486.5,425.4 1487.0,438.2 1487.1,440.1 C1486.8,447.6 1486.1,480.0 1485.0,500.0 C1483.9,520.0 1479.9,577.5 1478.5,600.0 C1477.1,622.5 1475.0,658.3 1473.6,680.4 C1472.2,702.5 1468.8,754.7 1467.2,776.8 C1465.6,798.9 1462.6,839.1 1460.8,857.2 C1459.0,875.3 1454.7,905.4 1452.7,921.5 C1450.7,937.6 1446.5,973.8 1444.7,985.9 C1442.9,998.0 1440.3,1011.6 1438.3,1018.0 C1436.3,1024.4 1431.0,1032.5 1428.6,1037.3 C1426.2,1042.1 1420.8,1053.6 1419.0,1056.6 C1417.2,1059.6 1414.7,1060.8 1414.1,1061.4" stroke="#4472C4" stroke-width="2.4" fill="none" stroke-linejoin="round" stroke-linecap="round"/>
<path d="M245.0,1062.0 C245.7,1051.4 249.1,986.9 250.3,977.3 C251.6,967.7 253.7,983.1 255.0,985.0 C256.3,986.9 258.9,997.9 260.5,992.6 C262.1,987.4 266.1,947.5 267.4,943.0 C268.7,938.5 269.8,956.1 271.0,957.0 C272.2,957.9 275.5,955.2 277.0,950.0 C278.5,944.8 281.6,921.5 282.7,915.7 C283.8,909.9 285.1,904.2 286.2,903.8 C287.3,903.4 289.6,912.7 291.3,912.3 C293.0,911.9 297.7,901.1 299.8,900.3 C301.9,899.4 306.5,903.6 308.4,905.5 C310.3,907.4 313.7,912.7 315.2,915.7 C316.7,918.7 319.1,928.1 320.3,929.4 C321.5,930.7 323.7,925.6 325.0,926.0 C326.3,926.4 329.3,930.2 330.6,932.8 C331.9,935.4 334.2,947.4 335.7,946.5 C337.2,945.6 340.9,927.3 342.6,926.0 C344.3,924.7 348.1,935.2 349.4,936.2 C350.7,937.2 351.7,937.4 353.0,934.0 C354.3,930.6 357.8,912.5 359.7,908.9 C361.6,905.3 365.8,907.0 368.2,905.5 C370.6,904.0 375.7,896.0 378.9,896.6 C382.1,897.2 390.5,908.1 394.0,910.5 C397.5,912.9 403.1,916.5 406.6,915.6 C410.1,914.7 418.0,907.7 421.8,903.0 C425.6,898.3 432.8,883.4 437.0,877.7 C441.2,872.0 452.0,859.6 455.6,857.4 C459.2,855.2 463.5,858.1 466.2,860.0 C468.9,861.9 474.3,871.4 477.0,872.5 C479.7,873.6 485.2,870.8 487.6,869.0 C490.0,867.2 494.5,862.8 496.5,858.3 C498.5,853.8 501.6,837.6 503.6,833.4 C505.6,829.2 510.2,827.2 512.5,824.5 C514.8,821.8 520.1,813.1 522.3,812.0 C524.5,810.9 528.5,815.6 530.3,815.6 C532.1,815.6 534.7,811.3 536.5,812.0 C538.3,812.7 542.2,821.4 544.5,821.0 C546.8,820.6 552.5,810.5 555.2,808.5 C557.9,806.5 563.4,807.2 565.8,805.0 C568.2,802.8 572.2,794.5 574.7,790.7 C577.2,786.9 582.5,778.4 585.4,774.7 C588.3,771.0 594.7,762.5 597.8,761.4 C600.9,760.3 607.4,763.7 610.3,765.8 C613.2,767.9 618.3,776.6 621.0,778.3 C623.7,780.0 628.9,781.9 631.6,779.2 C634.3,776.5 639.8,760.3 642.3,757.0 C644.8,753.7 649.0,755.2 651.2,752.5 C653.4,749.8 658.0,738.0 660.0,735.6 C662.0,733.2 665.0,733.7 667.0,733.0 C669.0,732.3 673.5,729.5 676.0,730.3 C678.5,731.1 684.1,738.3 686.8,739.2 C689.5,740.1 695.2,737.2 697.4,737.4 C699.6,737.6 702.5,742.5 704.5,741.0 C706.5,739.5 711.5,727.7 713.4,725.0 C715.3,722.3 718.0,722.0 720.0,719.6 C722.0,717.2 727.2,707.9 729.2,706.2 C731.2,704.5 733.9,705.3 735.8,706.2 C737.6,707.1 742.1,710.9 744.0,713.5 C745.9,716.1 747.7,723.0 750.6,726.7 C753.5,730.4 763.5,741.7 767.0,743.1 C770.5,744.5 775.8,740.1 778.5,738.2 C781.2,736.4 785.8,730.3 788.3,728.3 C790.8,726.2 795.9,723.6 798.2,721.8 C800.5,719.9 803.7,714.9 806.4,713.5 C809.1,712.1 816.2,711.0 819.5,710.3 C822.8,709.6 829.7,709.2 832.6,707.8 C835.5,706.4 839.6,702.0 842.5,698.8 C845.4,695.6 852.3,685.7 855.6,682.4 C858.9,679.1 865.2,674.8 868.7,672.5 C872.2,670.2 880.4,666.3 883.5,664.3 C886.6,662.2 890.1,658.5 893.4,656.1 C896.7,653.7 905.7,647.8 909.8,645.4 C913.9,643.0 921.7,638.4 926.2,637.2 C930.7,636.0 941.7,636.9 945.9,635.6 C950.1,634.3 958.0,628.1 960.0,626.6 C962.0,625.1 959.8,625.5 961.9,623.8 C964.0,622.1 973.4,614.7 977.2,612.9 C981.0,611.1 989.0,610.8 992.5,609.6 C996.0,608.4 1002.0,605.6 1005.6,603.0 C1009.2,600.4 1017.2,592.1 1021.0,588.8 C1024.8,585.5 1032.2,579.7 1036.3,576.8 C1040.4,573.9 1050.0,568.7 1053.8,565.8 C1057.6,562.9 1063.6,556.9 1066.9,553.8 C1070.2,550.7 1075.6,543.2 1080.0,540.7 C1084.4,538.2 1097.5,535.9 1101.9,534.1 C1106.3,532.3 1111.4,528.9 1115.0,526.4 C1118.6,523.9 1126.6,517.5 1130.4,514.4 C1134.2,511.3 1142.2,504.2 1145.7,501.3 C1149.2,498.4 1155.8,494.4 1158.8,491.4 C1161.8,488.4 1167.1,480.3 1169.8,477.2 C1172.5,474.1 1177.4,469.0 1180.7,466.3 C1184.0,463.6 1193.6,456.9 1196.0,455.3 C1198.4,453.7 1198.1,455.1 1200.0,453.4 C1201.9,451.7 1208.6,444.9 1211.5,441.9 C1214.4,438.9 1220.1,431.7 1223.0,429.6 C1225.9,427.6 1231.8,427.2 1234.5,425.5 C1237.2,423.8 1241.6,418.8 1244.3,415.6 C1247.0,412.4 1252.7,402.8 1255.8,400.0 C1258.9,397.2 1266.4,394.8 1268.9,393.5 C1271.4,392.2 1273.4,391.6 1275.5,389.4 C1277.6,387.2 1282.5,379.3 1285.4,376.2 C1288.3,373.1 1295.2,367.3 1298.5,364.8 C1301.8,362.3 1309.1,358.4 1311.6,356.5 C1314.1,354.6 1316.2,352.2 1318.2,350.0 C1320.2,347.8 1325.3,340.8 1328.0,338.5 C1330.7,336.2 1336.4,334.8 1339.5,331.9 C1342.6,329.0 1349.8,318.2 1352.7,315.5 C1355.6,312.8 1360.0,312.9 1362.5,310.6 C1365.0,308.4 1370.1,299.8 1372.4,297.5 C1374.7,295.2 1378.5,293.7 1380.6,292.5 C1382.6,291.3 1386.8,289.4 1388.8,287.6 C1390.8,285.8 1394.8,280.5 1397.0,277.8 C1399.2,275.1 1404.5,268.4 1406.8,266.3 C1409.0,264.2 1413.0,262.9 1415.0,261.3 C1417.0,259.7 1421.5,254.5 1423.2,253.1 C1425.0,251.7 1428.3,250.2 1429.0,249.8 C1428.8,252.7 1428.0,261.7 1427.3,272.8 C1426.6,283.9 1424.2,322.1 1423.2,338.5 C1422.2,354.9 1420.0,387.8 1419.1,404.2 C1418.2,420.6 1416.9,445.3 1415.9,469.8 C1414.9,494.3 1412.1,573.7 1410.9,600.0 C1409.7,626.3 1407.5,660.3 1406.1,680.4 C1404.7,700.5 1401.3,740.7 1399.7,760.8 C1398.1,780.9 1395.0,821.1 1393.2,841.2 C1391.4,861.3 1387.2,905.4 1385.2,921.5 C1383.2,937.6 1379.6,958.1 1377.2,969.8 C1374.8,981.5 1368.7,1008.0 1365.9,1014.8 C1363.1,1021.6 1357.7,1019.6 1354.7,1024.4 C1351.7,1029.2 1344.6,1049.4 1341.8,1053.4 C1339.0,1057.4 1333.8,1055.6 1332.2,1056.6 C1330.6,1057.6 1329.3,1060.9 1328.9,1061.5" stroke="#70AD47" stroke-width="2.4" fill="none" stroke-linejoin="round" stroke-linecap="round"/>
<path d="M245.0,1062.0 C245.7,1053.1 249.1,999.5 250.3,991.0 C251.6,982.5 253.7,993.1 255.0,994.0 C256.3,994.9 259.2,1002.4 260.5,997.8 C261.8,993.1 264.3,962.3 265.6,956.8 C266.9,951.3 269.7,953.4 271.0,954.0 C272.3,954.6 274.4,967.1 275.9,961.9 C277.4,956.7 281.0,918.1 282.7,912.3 C284.4,906.5 287.9,917.4 289.6,915.7 C291.3,914.0 294.7,900.1 296.4,898.6 C298.1,897.1 301.3,903.4 303.2,903.8 C305.1,904.2 309.9,901.4 311.8,902.0 C313.7,902.6 316.9,907.0 318.6,908.9 C320.3,910.8 323.8,915.7 325.5,917.4 C327.2,919.1 330.4,923.9 332.3,922.6 C334.2,921.3 338.8,908.3 340.9,907.2 C343.0,906.1 347.5,915.7 349.4,914.0 C351.3,912.3 354.5,896.9 356.2,893.5 C357.9,890.1 361.2,888.0 363.1,886.7 C365.0,885.4 368.4,882.0 371.3,882.8 C374.2,883.6 383.2,892.3 386.4,892.9 C389.5,893.5 394.3,886.2 396.5,887.8 C398.7,889.4 401.9,904.2 404.1,905.5 C406.3,906.8 411.7,898.2 414.2,897.9 C416.7,897.6 421.5,903.6 424.3,903.0 C427.1,902.4 433.8,895.4 436.9,892.9 C440.0,890.4 446.3,885.0 449.5,882.8 C452.7,880.6 459.0,876.5 462.2,875.2 C465.4,873.9 471.7,874.0 474.8,872.7 C477.9,871.4 484.2,867.5 487.4,865.0 C490.5,862.5 496.8,856.3 500.0,852.5 C503.2,848.7 509.9,838.0 512.7,834.8 C515.6,831.6 519.6,827.2 522.8,827.2 C525.9,827.2 534.1,833.4 537.9,834.8 C541.7,836.2 549.2,839.2 553.0,838.6 C556.8,838.0 565.0,832.4 568.2,829.7 C571.4,827.0 575.1,820.6 578.3,817.1 C581.4,813.6 589.9,803.3 593.4,802.0 C596.9,800.7 602.8,804.5 606.0,807.0 C609.2,809.5 615.9,817.2 618.7,822.2 C621.6,827.2 626.3,841.1 628.8,847.4 C631.3,853.7 636.4,868.0 638.9,872.7 C641.4,877.4 646.5,886.3 649.0,885.3 C651.5,884.3 656.6,871.3 659.1,865.0 C661.6,858.7 666.1,842.7 669.2,834.8 C672.4,826.9 681.3,806.9 684.3,802.0 C687.3,797.1 690.6,795.8 693.1,795.6 C695.6,795.4 701.1,798.6 704.6,800.5 C708.1,802.4 717.5,809.4 721.0,810.4 C724.5,811.4 729.4,810.8 732.5,808.7 C735.6,806.7 742.1,798.5 745.6,794.0 C749.1,789.5 756.9,775.5 760.4,772.6 C763.9,769.7 770.2,770.7 773.5,771.0 C776.8,771.3 783.6,775.5 786.7,775.1 C789.8,774.7 795.5,769.5 798.2,767.7 C800.9,766.0 805.3,763.2 808.0,761.1 C810.7,759.0 817.0,753.6 819.5,751.3 C822.0,748.9 825.0,743.7 827.7,742.3 C830.4,740.9 837.7,739.6 840.8,739.8 C843.9,740.0 849.8,742.7 852.3,743.9 C854.8,745.1 858.0,748.5 860.5,749.7 C863.0,750.9 869.1,753.8 872.0,753.8 C874.9,753.8 880.4,751.7 883.5,749.7 C886.6,747.8 892.9,739.1 896.6,738.2 C900.3,737.3 908.9,741.8 913.0,742.3 C917.1,742.8 925.4,743.2 929.5,742.3 C933.6,741.4 942.1,736.6 945.9,734.9 C949.7,733.1 957.2,729.6 960.0,728.3 C962.8,727.0 964.9,725.2 968.4,724.5 C971.9,723.8 983.5,724.5 988.1,722.3 C992.8,720.1 1001.5,710.3 1005.6,707.0 C1009.7,703.7 1017.2,697.9 1021.0,696.0 C1024.8,694.1 1031.9,692.7 1036.3,691.6 C1040.7,690.5 1051.9,688.7 1056.0,687.3 C1060.1,685.9 1066.1,682.9 1069.1,680.7 C1072.1,678.5 1077.0,672.1 1080.0,669.8 C1083.0,667.5 1089.6,663.2 1093.2,662.1 C1096.8,661.0 1104.1,662.5 1108.5,661.0 C1112.9,659.5 1123.5,651.7 1128.2,650.1 C1132.9,648.5 1141.9,649.5 1145.7,647.9 C1149.5,646.3 1155.5,639.5 1158.8,637.0 C1162.1,634.5 1167.8,630.7 1171.9,628.2 C1176.0,625.7 1186.9,619.8 1191.6,617.2 C1196.2,614.6 1205.5,609.5 1209.1,607.4 C1212.6,605.2 1217.0,602.2 1220.0,600.0 C1223.0,597.8 1229.8,592.5 1233.2,590.1 C1236.6,587.8 1243.7,583.5 1247.2,581.2 C1250.7,578.9 1257.7,574.4 1261.2,572.0 C1264.7,569.7 1271.7,565.0 1275.2,562.6 C1278.7,560.2 1285.7,555.4 1289.2,552.9 C1292.7,550.4 1299.7,545.5 1303.2,542.9 C1306.7,540.4 1313.7,535.3 1317.2,532.7 C1320.7,530.1 1327.7,524.8 1331.2,522.2 C1334.7,519.5 1341.7,514.1 1345.2,511.3 C1348.7,508.6 1355.7,503.0 1359.2,500.2 C1362.7,497.4 1369.7,491.7 1373.2,488.8 C1376.7,485.9 1383.7,480.1 1387.2,477.1 C1390.7,474.1 1397.7,468.1 1401.2,465.1 C1404.7,462.0 1411.7,455.9 1415.2,452.7 C1418.7,449.6 1425.7,443.3 1429.2,440.1 C1432.7,436.9 1439.7,430.4 1443.2,427.1 C1446.7,423.8 1453.7,417.1 1457.2,413.7 C1460.7,410.4 1467.7,403.5 1471.2,400.1 C1474.7,396.6 1481.7,389.6 1485.2,386.1 C1488.7,382.5 1495.7,375.3 1499.2,371.7 C1502.7,368.1 1509.7,360.7 1513.2,357.0 C1516.7,353.3 1523.7,345.7 1527.2,341.9 C1530.7,338.1 1537.7,330.4 1541.2,326.5 C1544.7,322.6 1551.7,314.7 1555.2,310.7 C1558.7,306.7 1565.7,298.6 1569.2,294.5 C1572.7,290.4 1579.7,282.1 1583.2,277.9 C1586.7,273.7 1593.7,265.2 1597.2,261.0 C1600.7,256.7 1607.7,248.0 1611.2,243.6 C1614.7,239.2 1621.7,230.3 1625.2,225.9 C1628.7,221.4 1635.7,212.3 1639.2,207.7 C1642.7,203.1 1650.2,193.2 1653.2,189.1 C1656.2,185.1 1661.9,177.0 1663.1,175.3 C1663.0,179.4 1662.8,195.5 1662.2,207.9 C1661.6,220.3 1659.2,256.9 1658.4,274.9 C1657.6,292.8 1656.3,332.4 1655.5,351.5 C1654.7,370.6 1653.2,397.0 1651.6,428.1 C1650.0,459.2 1644.2,566.5 1642.4,600.0 C1640.7,633.5 1639.0,674.4 1637.6,696.5 C1636.2,718.6 1632.8,758.7 1631.2,776.8 C1629.6,794.9 1626.4,827.1 1624.8,841.2 C1623.2,855.3 1620.3,877.0 1618.3,889.4 C1616.3,901.8 1611.1,929.5 1608.7,940.8 C1606.3,952.0 1601.8,969.8 1599.0,979.4 C1596.2,989.0 1589.4,1010.0 1586.2,1018.0 C1583.0,1026.0 1576.9,1038.9 1573.3,1043.7 C1569.7,1048.5 1560.4,1054.3 1557.2,1056.6 C1554.0,1058.9 1548.8,1061.3 1547.6,1062.0" stroke="#255E91" stroke-width="2.4" fill="none" stroke-linejoin="round" stroke-linecap="round"/>
<path d="M291,136.8 L345.5,136.8" stroke="#5B9BD5" stroke-width="2"/>
<path d="M291,220.5 L345.5,220.5" stroke="#ED7D31" stroke-width="2"/>
<path d="M291,303.8 L345.5,303.8" stroke="#A5A5A5" stroke-width="2"/>
<path d="M291,387.4 L345.5,387.4" stroke="#FFC000" stroke-width="2"/>
<path d="M291,468.5 L345.5,468.5" stroke="#4472C4" stroke-width="2"/>
<path d="M291,552.0 L345.5,552.0" stroke="#70AD47" stroke-width="2"/>
<text x="348.3" y="155.0" font-family="'Liberation Serif', 'DejaVu Serif', serif" font-size="67.5" textLength="121.8" lengthAdjust="spacingAndGlyphs">100J</text>
<text x="348.3" y="238.7" font-family="'Liberation Serif', 'DejaVu Serif', serif" font-size="67.5" textLength="121.8" lengthAdjust="spacingAndGlyphs">150J</text>
<text x="348.3" y="319.9" font-family="'Liberation Serif', 'DejaVu Serif', serif" font-size="67.5" textLength="121.8" lengthAdjust="spacingAndGlyphs">200J</text>
<text x="348.3" y="403.5" font-family="'Liberation Serif', 'DejaVu Serif', serif" font-size="67.5" textLength="121.8" lengthAdjust="spacingAndGlyphs">250J</text>
<text x="348.0" y="486.4" font-family="'Liberation Serif', 'DejaVu Serif', serif" font-size="67.5" textLength="122.1" lengthAdjust="spacingAndGlyphs">300J</text>
<text x="348.0" y="570.2" font-family="'Liberation Serif', 'DejaVu Serif', serif" font-size="67.5" textLength="122.1" lengthAdjust="spacingAndGlyphs">350J</text>
<text x="180.5" y="1078.4" font-family="'Liberation Serif', 'DejaVu Serif', serif" font-size="67.5" text-anchor="end">0</text>
<text x="180.5" y="909.1" font-family="'Liberation Serif', 'DejaVu Serif', serif" font-size="67.5" text-anchor="end">5</text>
<text x="180.5" y="739.9" font-family="'Liberation Serif', 'DejaVu Serif', serif" font-size="67.5" text-anchor="end">10</text>
<text x="180.5" y="570.9" font-family="'Liberation Serif', 'DejaVu Serif', serif" font-size="67.5" text-anchor="end">15</text>
<text x="180.5" y="401.3" font-family="'Liberation Serif', 'DejaVu Serif', serif" font-size="67.5" text-anchor="end">20</text>
<text x="180.5" y="232.2" font-family="'Liberation Serif', 'DejaVu Serif', serif" font-size="67.5" text-anchor="end">25</text>
<text x="180.5" y="65.1" font-family="'Liberation Serif', 'DejaVu Serif', serif" font-size="67.5" text-anchor="end">30</text>
<text x="245.0" y="1173.5" font-family="'Liberation Serif', 'DejaVu Serif', serif" font-size="67.5" text-anchor="middle">0</text>
<text x="463.9" y="1173.5" font-family="'Liberation Serif', 'DejaVu Serif', serif" font-size="67.5" text-anchor="middle">5</text>
<text x="680.2" y="1173.5" font-family="'Liberation Serif', 'DejaVu Serif', serif" font-size="67.5" text-anchor="middle">10</text>
<text x="896.9" y="1173.5" font-family="'Liberation Serif', 'DejaVu Serif', serif" font-size="67.5" text-anchor="middle">15</text>
<text x="1113.5" y="1173.5" font-family="'Liberation Serif', 'DejaVu Serif', serif" font-size="67.5" text-anchor="middle">20</text>
<text x="1330.3" y="1173.5" font-family="'Liberation Serif', 'DejaVu Serif', serif" font-size="67.5" text-anchor="middle">25</text>
<text x="1546.6" y="1173.5" font-family="'Liberation Serif', 'DejaVu Serif', serif" font-size="67.5" text-anchor="middle">30</text>
<text x="1763.2" y="1173.5" font-family="'Liberation Serif', 'DejaVu Serif', serif" font-size="67.5" text-anchor="middle">35</text>
<g transform="translate(85.8,713.7) rotate(-90)"><text x="-2.1" y="0" font-family="'Liberation Serif', 'DejaVu Serif', serif" font-size="73.7" textLength="156.1" lengthAdjust="spacingAndGlyphs">Load</text><text x="175.0" y="0" font-family="'Liberation Serif', 'DejaVu Serif', serif" font-size="73.7" textLength="149.0" lengthAdjust="spacingAndGlyphs">[kN]</text></g>
<text x="697.2" y="1277.9" font-family="'Liberation Serif', 'DejaVu Serif', serif" font-size="71.4" textLength="420.6" lengthAdjust="spacingAndGlyphs">Displacement</text>
<text x="1137.4" y="1277.9" font-family="'Liberation Serif', 'DejaVu Serif', serif" font-size="71.4" textLength="167.6" lengthAdjust="spacingAndGlyphs">[mm]</text>
<text y="1415.5" font-family="'Liberation Serif', 'DejaVu Serif', serif" font-size="87.7"><tspan x="709.7">(</tspan><tspan x="735.8" font-weight="bold">e</tspan><tspan x="776.4">)</tspan></text>
<text x="825.8" y="1415.5" font-family="'Liberation Serif', 'DejaVu Serif', serif" font-size="87.7" textLength="188.4" lengthAdjust="spacingAndGlyphs">Type</text>
<text x="1034.4" y="1415.5" font-family="'Liberation Serif', 'DejaVu Serif', serif" font-size="87.7" textLength="89.9" lengthAdjust="spacingAndGlyphs">VI</text>
</svg>
</body></html>
